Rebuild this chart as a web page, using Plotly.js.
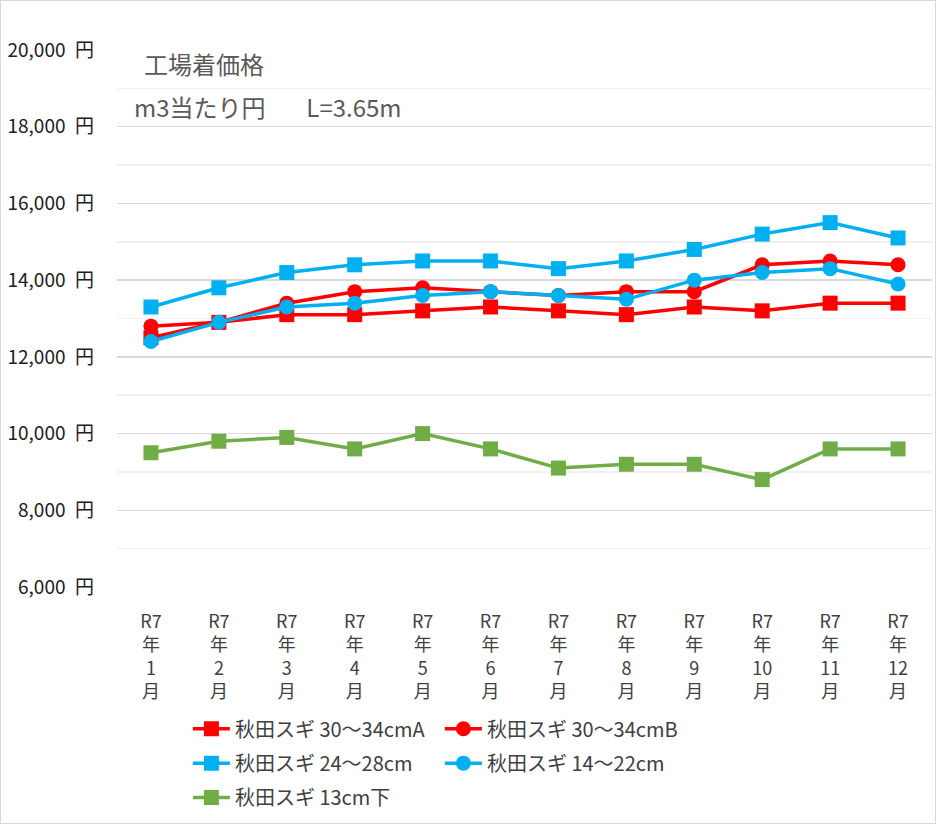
<!DOCTYPE html>
<html>
<head>
<meta charset="utf-8">
<script src="https://cdn.plot.ly/plotly-3.0.1.min.js"></script>
<style>
  body { margin: 0; background: #fff; }
  #chart { position: absolute; left: 0; top: 0; width: 937px; height: 825px; }
  #frame { position: absolute; left: 0; top: 0; width: 934px; height: 822px; border: 1px solid #d9d9d9; pointer-events: none; }
</style>
</head>
<body>
<div id="chart"></div>
<div id="frame"></div>
<script>
// ---- Data ----
const months = ['1', '2', '3', '4', '5', '6', '7', '8', '9', '10', '11', '12'];
const monthLabels = months.map(m => `R7<br>年<br>${m}<br>月`);

const sugi30A = [12500, 12900, 13100, 13100, 13200, 13300, 13200, 13100, 13300, 13200, 13400, 13400];
const sugi30B = [12800, 12900, 13400, 13700, 13800, 13700, 13600, 13700, 13700, 14400, 14500, 14400];
const sugi24  = [13300, 13800, 14200, 14400, 14500, 14500, 14300, 14500, 14800, 15200, 15500, 15100];
const sugi14  = [12400, 12900, 13300, 13400, 13600, 13700, 13600, 13500, 14000, 14200, 14300, 13900];
const sugi13  = [9500, 9800, 9900, 9600, 10000, 9600, 9100, 9200, 9200, 8800, 9600, 9600];

const FONT = '"Noto Sans CJK JP", "Noto Sans", sans-serif';
const RED   = '#FF0000';
const BLUE  = '#00B0F0';
const GREEN = '#70AD47';

function series(name, values, color, symbol, legend) {
  return {
    type: 'scatter',
    mode: 'lines+markers',
    name: name,
    x: monthLabels,
    y: values,
    line:   { color: color, width: 3.5 },
    marker: { color: color, symbol: symbol, size: 15 },
    legend: legend,
  };
}

const traces = [
  series('秋田スギ 30～34cmA', sugi30A, RED,   'square', 'legend'),
  series('秋田スギ 30～34cmB', sugi30B, RED,   'circle', 'legend'),
  series('秋田スギ 24～28cm',  sugi24,  BLUE,  'square', 'legend2'),
  series('秋田スギ 14～22cm',  sugi14,  BLUE,  'circle', 'legend2'),
  series('秋田スギ 13cm下',    sugi13,  GREEN, 'square', 'legend3'),
];

const legendBase = {
  orientation: 'h',
  x: 0.087,
  xanchor: 'left',
  yanchor: 'middle',
  bgcolor: 'rgba(0,0,0,0)',
  font: { family: FONT, size: 20, color: '#404040' },
  entrywidth: 200,
  entrywidthmode: 'pixels',
  itemwidth: 37,
};

const layout = {
  width: 937,
  height: 825,
  margin: { l: 117, r: 5, t: 50, b: 238 },
  paper_bgcolor: '#fff',
  plot_bgcolor: '#fff',
  font: { family: FONT, color: '#404040' },
  showlegend: true,
  xaxis: {
    type: 'category',
    range: [-0.5, 11.5],
    showgrid: false,
    showline: false,
    zeroline: false,
    ticks: '',
    ticklabelstandoff: 22,
    tickfont: { family: FONT, size: 18, color: '#404040' },
    tickangle: 0,
  },
  yaxis: {
    range: [6000, 20000],
    dtick: 2000,
    tickformat: ',d',
    ticksuffix: '\u2002円',
    showline: false,
    zeroline: false,
    gridcolor: '#d9d9d9',
    gridwidth: 1.5,
    ticklabelstandoff: 22,
    tickfont: { family: FONT, size: 19, color: '#202020' },
    minor: { dtick: 1000, showgrid: true, gridcolor: '#f0f0f0', gridwidth: 1.5 },
  },
  legend:  { ...legendBase, y: -0.264 },
  legend2: { ...legendBase, y: -0.328 },
  legend3: { ...legendBase, y: -0.392 },
  annotations: [
    {
      text: '工場着価格', xref: 'paper', yref: 'paper',
      x: 0.031, y: 0.975, xanchor: 'left', yanchor: 'middle', showarrow: false,
      font: { family: FONT, size: 24, color: '#595959' },
    },
    {
      text: 'm3当たり円\u3000\u2002\u2009L=3.65m', xref: 'paper', yref: 'paper',
      x: 0.018, y: 0.894, xanchor: 'left', yanchor: 'middle', showarrow: false,
      font: { family: FONT, size: 24, color: '#595959' },
    },
  ],
};

Plotly.newPlot('chart', traces, layout, { displayModeBar: false, staticPlot: true });
</script>
</body>
</html>
